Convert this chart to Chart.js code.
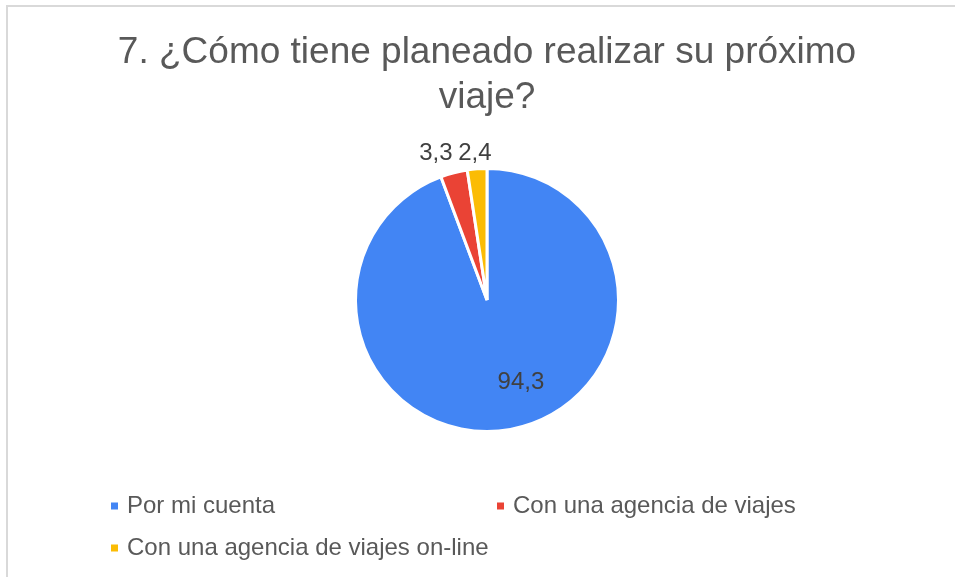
<!DOCTYPE html>
<html><head><meta charset="utf-8">
<script src="https://cdn.jsdelivr.net/npm/chart.js@4/dist/chart.umd.min.js"></script>
<style>
html,body{margin:0;padding:0;background:#fff;overflow:hidden}
#wrap{position:relative;width:955px;height:577px}
#frame{position:absolute;left:6px;top:5px;width:1000px;height:1000px;border:2px solid #d9d9d9;pointer-events:none}
</style></head><body>
<div id="wrap"><canvas id="c" width="955" height="577"></canvas><div id="frame"></div></div>
<script>
'use strict';
const titleLines = ['7. ¿Cómo tiene planeado realizar su próximo', 'viaje?'];
const categories = ['Por mi cuenta', 'Con una agencia de viajes', 'Con una agencia de viajes on-line'];
const values = [94.3, 3.3, 2.4];
const colors = ['#4285f4', '#ea4335', '#fbbc04'];

const FONT = '"Liberation Sans", Arial, sans-serif';
const fmt = v => v.toFixed(1).replace('.', ',');

// etiquetas de valor: dentro para el trozo grande, fuera para los pequeños
const valueLabels = {
  id: 'valueLabels',
  afterDatasetsDraw(chart, args, opts) {
    const ctx = chart.ctx;
    const meta = chart.getDatasetMeta(0);
    ctx.save();
    ctx.font = '24px ' + FONT;
    ctx.fillStyle = '#404040';
    ctx.textAlign = 'center';
    ctx.textBaseline = 'middle';
    meta.data.forEach((arc, i) => {
      const p = arc.getProps(['x', 'y', 'startAngle', 'endAngle', 'outerRadius'], true);
      const mid = (p.startAngle + p.endAngle) / 2;
      const r = p.outerRadius * opts.radius[i];
      const [dx, dy] = opts.shift[i];
      ctx.fillText(fmt(values[i]), p.x + Math.cos(mid) * r + dx, p.y + Math.sin(mid) * r + dy);
    });
    ctx.restore();
  }
};

// leyenda en dos columnas, alineada a la izquierda
const gridLegend = {
  id: 'gridLegend',
  afterDraw(chart, args, opts) {
    const ctx = chart.ctx;
    ctx.save();
    ctx.font = opts.size + 'px ' + FONT;
    ctx.textBaseline = 'middle';
    ctx.textAlign = 'left';
    categories.forEach((name, i) => {
      const [x, y] = opts.pos[i];
      ctx.fillStyle = colors[i];
      ctx.fillRect(x, y - 3.5, 7, 7);
      ctx.fillStyle = '#595959';
      ctx.fillText(name, x + 16, y);
    });
    ctx.restore();
  }
};

new Chart(document.getElementById('c'), {
  type: 'pie',
  data: {
    labels: categories,
    datasets: [{ data: values, backgroundColor: colors, borderColor: '#ffffff', borderWidth: 3 }]
  },
  options: {
    responsive: false,
    animation: false,
    layout: { padding: { left: 19, right: 0, top: 0, bottom: 144 } },
    plugins: {
      legend: { display: false },
      tooltip: { enabled: false },
      title: {
        display: true,
        text: titleLines,
        color: '#595959',
        font: { family: FONT, size: 37, weight: 'normal', lineHeight: 1.216 },
        padding: { top: 30, bottom: 47 }
      },
      valueLabels: { radius: [0.68, 1.12, 1.12], shift: [[18, -5.5], [-14, -4], [-1, 0]] },
      gridLegend: { size: 24, pos: [[111, 506], [497, 506], [111, 548]] }
    }
  },
  plugins: [valueLabels, gridLegend]
});
</script>
</body></html>
